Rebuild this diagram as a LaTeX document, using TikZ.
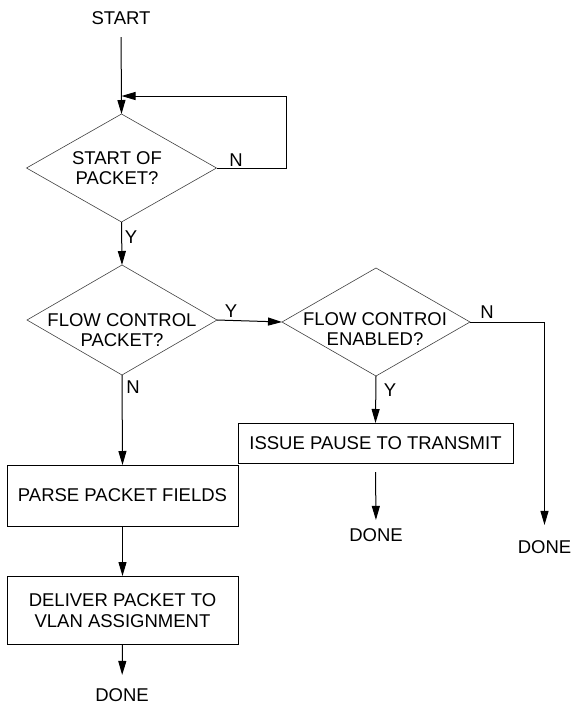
\documentclass[tikz,border=0pt]{standalone}
\usepackage{fontspec}
\setmainfont{Liberation Sans}
\usetikzlibrary{shapes.geometric,arrows.meta}
\begin{document}
\begin{tikzpicture}[x=1pt,y=-1pt,
  every node/.style={font=\fontsize{18.5}{20.5}\selectfont, inner sep=0pt, outer sep=0pt},
  decision/.style={diamond, draw=black!75, line width=0.6pt, minimum width=190pt, minimum height=108pt},
  procbox/.style={rectangle, draw, line width=1pt, align=center},
  txt/.style={align=center},
  arr/.style={-{Triangle[length=14pt,width=8pt]}, line width=1pt}
]
\useasboundingbox (0,0) rectangle (572,705);

% terminals
\node (start) at (121,18) {START};
\node (done1) at (376,535) {DONE};
\node (done2) at (544.5,547) {DONE};
\node (done3) at (122,695) {DONE};

% decisions
\node[decision] (d1) at (121.5,168) {};
\node[txt] (d1t) at (117,168) {START OF\\PACKET?};
\node[decision, minimum height=110pt] (d2) at (122,320) {};
\node[txt] (d2t) at (122,330) {FLOW CONTROL\\PACKET?};
\node[decision, minimum width=188pt, minimum height=108pt] (d3) at (376,322) {};
\node[txt] (d3t) at (375,329) {FLOW CONTROI\\ENABLED?};

% processes
\node[procbox, minimum width=231pt, minimum height=61pt] (parse) at (122.5,495.5) {PARSE PACKET FIELDS};
\node[procbox, minimum width=231pt, minimum height=68pt, text height=35pt] (deliver) at (122.5,610) {DELIVER PACKET TO\\VLAN ASSIGNMENT};
\node[procbox, minimum width=275pt, minimum height=40pt] (issue) at (375.5,443) {ISSUE PAUSE TO TRANSMIT};

% branch labels
\node (y1) at (131,237) {Y};
\node (n1) at (236,160) {N};
\node (y2) at (231,311) {Y};
\node (n2) at (133,387) {N};
\node (n3) at (487,312) {N};
\node (y3) at (390,390) {Y};

% connectors
\coordinate (loopin) at (121.5,96);
\draw[arr, shorten <=12.5pt] (start.south) -- (d1.north);
\draw[arr] (d1.east) -- ++(70,0) |- (loopin);
\draw[arr] (d1.south) -- (d2.north);
\draw[arr] (d2.east) -- (d3.west);
\draw[arr] (d2.south) -- (parse.north);
\draw[arr] (parse.south) -- (deliver.north);
\draw[arr, shorten >=13.5pt] (deliver.south) -- (done3.north);
\draw[arr] (d3.south) -- (issue.north);
\draw[arr, shorten <=9pt, shorten >=8.5pt] (issue.south) -- (done1.north);
\draw[arr, shorten >=15.5pt] (d3.east) -| (done2.north);
\end{tikzpicture}
\end{document}
